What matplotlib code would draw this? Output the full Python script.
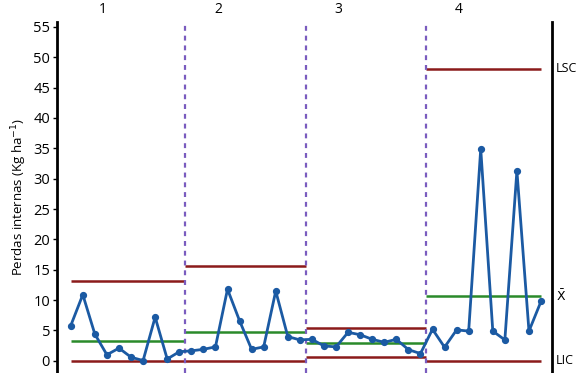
import matplotlib
matplotlib.use("Agg")
import matplotlib.pyplot as plt
import numpy as np

plt.rcParams['font.family'] = ['Open Sans', 'DejaVu Sans']

phase_labels = ["1", "2", "3", "4"]
phase1 = [5.8, 10.9, 4.4, 1.0, 2.1, 0.6, 0.05, 7.2, 0.3, 1.5]
phase2 = [1.65, 1.9, 2.3, 11.8, 6.6, 1.9, 2.3, 11.5, 4.0, 3.45]
phase3 = [3.55, 2.45, 2.3, 4.7, 4.3, 3.55, 3.05, 3.55, 1.85, 1.2]
phase4 = [5.2, 2.25, 5.1, 4.9, 34.9, 4.9, 3.45, 31.3, 4.9, 9.8]
ucl = [13.1, 15.65, 5.4, 48.1]
mean = [3.35, 4.7, 2.9, 10.6]
lcl = [0.0, 0.05, 0.7, 0.05]
boundaries = [10.5, 20.5, 30.5]
yticks = list(range(0, 60, 5))
limit_labels = ["LSC", r"$\bar{\mathrm{X}}$", "LIC"]

values = phase1 + phase2 + phase3 + phase4
x = np.arange(1, len(values) + 1)

fig = plt.figure(figsize=(5.82, 3.73), dpi=100)
ax = fig.add_axes([57/582, 0, (552-57)/582, 1 - 22/373])

blue = "#1b5aa3"
red = "#8b1a1a"
green = "#2a8a2a"
purple = "#7a5cbf"

edges = [1] + boundaries + [40]
for i in range(4):
    x0, x1 = edges[i], edges[i+1]
    ax.plot([x0, x1], [ucl[i]]*2, color=red, lw=1.8, solid_capstyle='butt')
    ax.plot([x0, x1], [lcl[i]]*2, color=red, lw=1.8, solid_capstyle='butt')
    ax.plot([x0, x1], [mean[i]]*2, color=green, lw=1.8, solid_capstyle='butt')

for b in boundaries:
    ax.axvline(b, color=purple, lw=1.6, ls=(0, (2.2, 2.2)))

ax.plot(x, values, color=blue, lw=2.0, marker='o', markersize=4.2, zorder=5)

ax.set_xlim(-0.14, 40.91)
ax.set_ylim(-2, 55.8)
ax.set_yticks(yticks)
ax.tick_params(axis='y', labelsize=10.5, length=3, width=1, pad=2)
ax.set_xticks([])
ax.spines['top'].set_visible(False)
ax.spines['bottom'].set_visible(False)
ax.spines['left'].set_linewidth(2)
ax.spines['right'].set_linewidth(2)
ax.set_ylabel("Perdas internas (Kg ha$^{-1}$)", fontsize=9.5, labelpad=3)

centers = [3.68, 13.2, 23.16, 33.2]
for c, lab in zip(centers, phase_labels):
    ax.text(c, 56.6, lab, ha='center', va='bottom', fontsize=10, clip_on=False)

for yv, lab in zip([ucl[3], mean[3], lcl[3]], limit_labels):
    ax.text(41.25, yv, lab, ha='left', va='center', fontsize=9, clip_on=False)

fig.savefig("out.png", dpi=100)
